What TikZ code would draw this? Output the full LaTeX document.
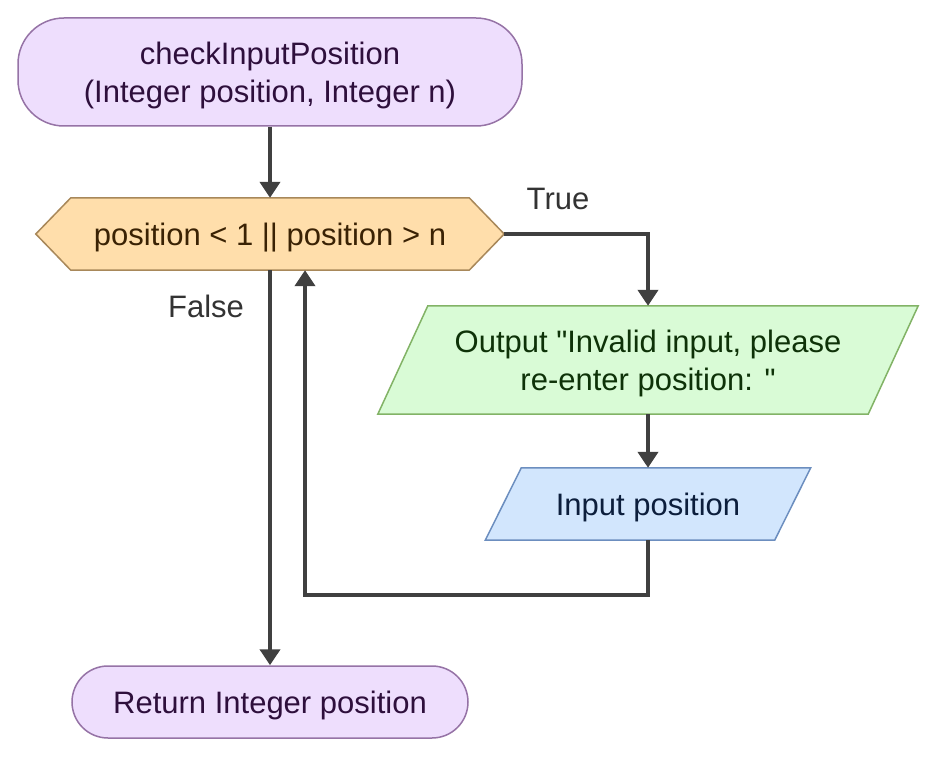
\documentclass[tikz,border=0pt]{standalone}
\usepackage{fontspec}
\setmainfont{Liberation Sans}
\usetikzlibrary{arrows.meta,backgrounds}
\definecolor{termfill}{HTML}{EEDEFD}
\definecolor{termdraw}{HTML}{9673A6}
\definecolor{termtext}{HTML}{2E0F3C}
\definecolor{decfill}{HTML}{FFDEAB}
\definecolor{decdraw}{HTML}{A8885A}
\definecolor{dectext}{HTML}{3A2204}
\definecolor{outfill}{HTML}{D9FBD6}
\definecolor{outdraw}{HTML}{82B366}
\definecolor{outtext}{HTML}{0E3208}
\definecolor{infill}{HTML}{D2E6FD}
\definecolor{indraw}{HTML}{6C8EBF}
\definecolor{intext}{HTML}{0C1E3C}
\definecolor{linecol}{HTML}{404040}
\definecolor{labcol}{HTML}{333333}
\begin{document}
\begin{tikzpicture}[x=1pt,y=-1pt,
  every node/.style={font=\fontsize{31}{38}\selectfont, align=center, inner sep=0pt},
  oneline/.style={text height=22.2pt, text depth=0pt},
  twoline/.style={text height=60.2pt, text depth=0pt},
  term/.style={draw=termdraw, fill=termfill, line width=1.5pt, text=termtext},
  boxnode/.style={draw=none},
  conn/.style={draw=linecol, line width=4.5pt, -{Triangle[width=20pt,length=16pt]}},
  lab/.style={text=labcol},
  shapeline/.style={line width=1.5pt, line join=miter}
]
\useasboundingbox (0,0) rectangle (937,757);

% terminals
\node[term, twoline, rounded corners=46pt, minimum width=504pt, minimum height=108pt] (start) at (270,72)
  {checkInputPosition\\(Integer position, Integer n)};
\node[term, oneline, rounded corners=36pt, minimum width=396pt, minimum height=72pt] (ret) at (270,702)
  {Return Integer position};

% decision (hexagon)
\node[boxnode, oneline, minimum width=398pt, minimum height=72pt, text=dectext] (dec) at (270,234)
  {position < 1 || position > n};
\coordinate (dectip) at ([xshift=35pt]dec.east);
\coordinate (decleft) at ([xshift=-35pt]dec.west);

% output
\node[boxnode, twoline, minimum width=490pt, minimum height=108pt, text=outtext] (out) at (648,360)
  {Output \textquotedbl Invalid input, please\\re-enter position: \textquotedbl};
% input
\node[boxnode, oneline, minimum width=289pt, minimum height=72pt, text=intext] (inp) at (648,504)
  {Input position};

\begin{scope}[on background layer]
  \fill[white] (0,0) rectangle (937,757);
  \filldraw[shapeline, fill=decfill, draw=decdraw]
    (dec.north west) -- (dec.north east) -- (dectip) -- (dec.south east)
    -- (dec.south west) -- (decleft) -- cycle;
  \filldraw[shapeline, fill=outfill, draw=outdraw]
    ([xshift=25pt]out.north west) -- ([xshift=25pt]out.north east)
    -- ([xshift=-25pt]out.south east) -- ([xshift=-25pt]out.south west) -- cycle;
  \filldraw[shapeline, fill=infill, draw=indraw]
    ([xshift=18pt]inp.north west) -- ([xshift=18pt]inp.north east)
    -- ([xshift=-18pt]inp.south east) -- ([xshift=-18pt]inp.south west) -- cycle;
\end{scope}

% connectors
\draw[conn] (start.south) -- (dec.north);
\draw[conn] (dec.south) -- (ret.north);
\coordinate (tcorner) at (out.north |- dectip);
\draw[conn] (dectip) -- (tcorner) -- (out.north);
\draw[conn] (out.south) -- (inp.north);
\coordinate (loopA) at (inp.south |- 0,595);
\coordinate (loopB) at (305,595);
\coordinate (loopEnd) at (loopB |- dec.south);
\draw[conn, line join=miter] (inp.south) -- (loopA) -- (loopB) -- (loopEnd);

% labels
\node[lab] (truelab) at (558,199) {True};
\node[lab] (falselab) at (206,306) {False};
\end{tikzpicture}
\end{document}
